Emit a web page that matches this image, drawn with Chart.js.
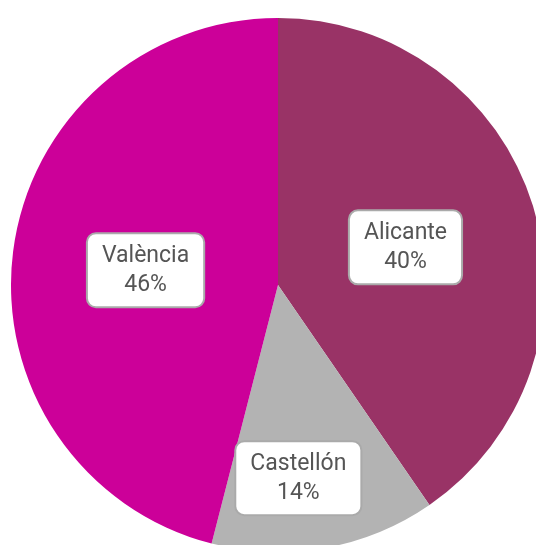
<!DOCTYPE html>
<html>
<head>
<meta charset="utf-8">
<script src="https://cdn.jsdelivr.net/npm/chart.js@4"></script>
<style>
  html, body { margin: 0; padding: 0; overflow: hidden; background: #fff; width: 536px; height: 545px; }
  #grafico { position: absolute; left: 11px; top: 18px; }
</style>
</head>
<body>
<canvas id="grafico" width="534" height="534"></canvas>
<script>
const provincias = ["Alicante", "Castellón", "València"];
const valores = [40.4, 13.6, 46.0];
const colores = ["#993366", "#b3b3b3", "#cc0099"];

// where each label sits: fraction of radius, and a small angle nudge (radians)
const posEtiqueta = [
    { r: 0.5, a: 0 },
    { r: 0.72, a: 0.07 },
    { r: 0.5, a: 0 }
];

function cajaRedonda(ctx, x, y, w, h, r) {
    ctx.beginPath();
    ctx.moveTo(x + r, y);
    ctx.lineTo(x + w - r, y);
    ctx.arcTo(x + w, y, x + w, y + r, r);
    ctx.lineTo(x + w, y + h - r);
    ctx.arcTo(x + w, y + h, x + w - r, y + h, r);
    ctx.lineTo(x + r, y + h);
    ctx.arcTo(x, y + h, x, y + h - r, r);
    ctx.lineTo(x, y + r);
    ctx.arcTo(x, y, x + r, y, r);
    ctx.closePath();
}

const etiquetas = {
    id: "etiquetas",
    afterDatasetsDraw(chart) {
        const ctx = chart.ctx;
        const meta = chart.getDatasetMeta(0);
        const total = valores.reduce((a, b) => a + b, 0);
        ctx.save();
        ctx.font = "23px Roboto";
        ctx.textAlign = "center";
        ctx.textBaseline = "middle";
        meta.data.forEach((arc, i) => {
            const p = arc.getProps(["x", "y", "startAngle", "endAngle", "outerRadius"], true);
            const ang = (p.startAngle + p.endAngle) / 2 + posEtiqueta[i].a;
            const rad = p.outerRadius * posEtiqueta[i].r;
            const cx = p.x + Math.cos(ang) * rad;
            const cy = p.y + Math.sin(ang) * rad + 2;
            const linea1 = provincias[i];
            const linea2 = Math.round(valores[i] / total * 100) + "%";
            const w = Math.max(ctx.measureText(linea1).width, ctx.measureText(linea2).width) + 30;
            const h = 74;
            cajaRedonda(ctx, cx - w / 2, cy - h / 2, w, h, 9);
            ctx.fillStyle = "#ffffff";
            ctx.fill();
            ctx.lineWidth = 2;
            ctx.strokeStyle = "#aaaaaa";
            ctx.stroke();
            ctx.fillStyle = "#555555";
            ctx.fillText(linea1, cx, cy - 14);
            ctx.fillText(linea2, cx, cy + 15);
        });
        ctx.restore();
    }
};

const ctx = document.getElementById("grafico").getContext("2d");
window.grafico = new Chart(ctx, {
    type: "pie",
    data: {
        labels: provincias,
        datasets: [{
            data: valores,
            backgroundColor: colores,
            borderWidth: 0
        }]
    },
    options: {
        responsive: false,
        animation: false,
        plugins: {
            legend: { display: false },
            tooltip: { enabled: false }
        }
    },
    plugins: [etiquetas]
});
</script>
</body>
</html>
